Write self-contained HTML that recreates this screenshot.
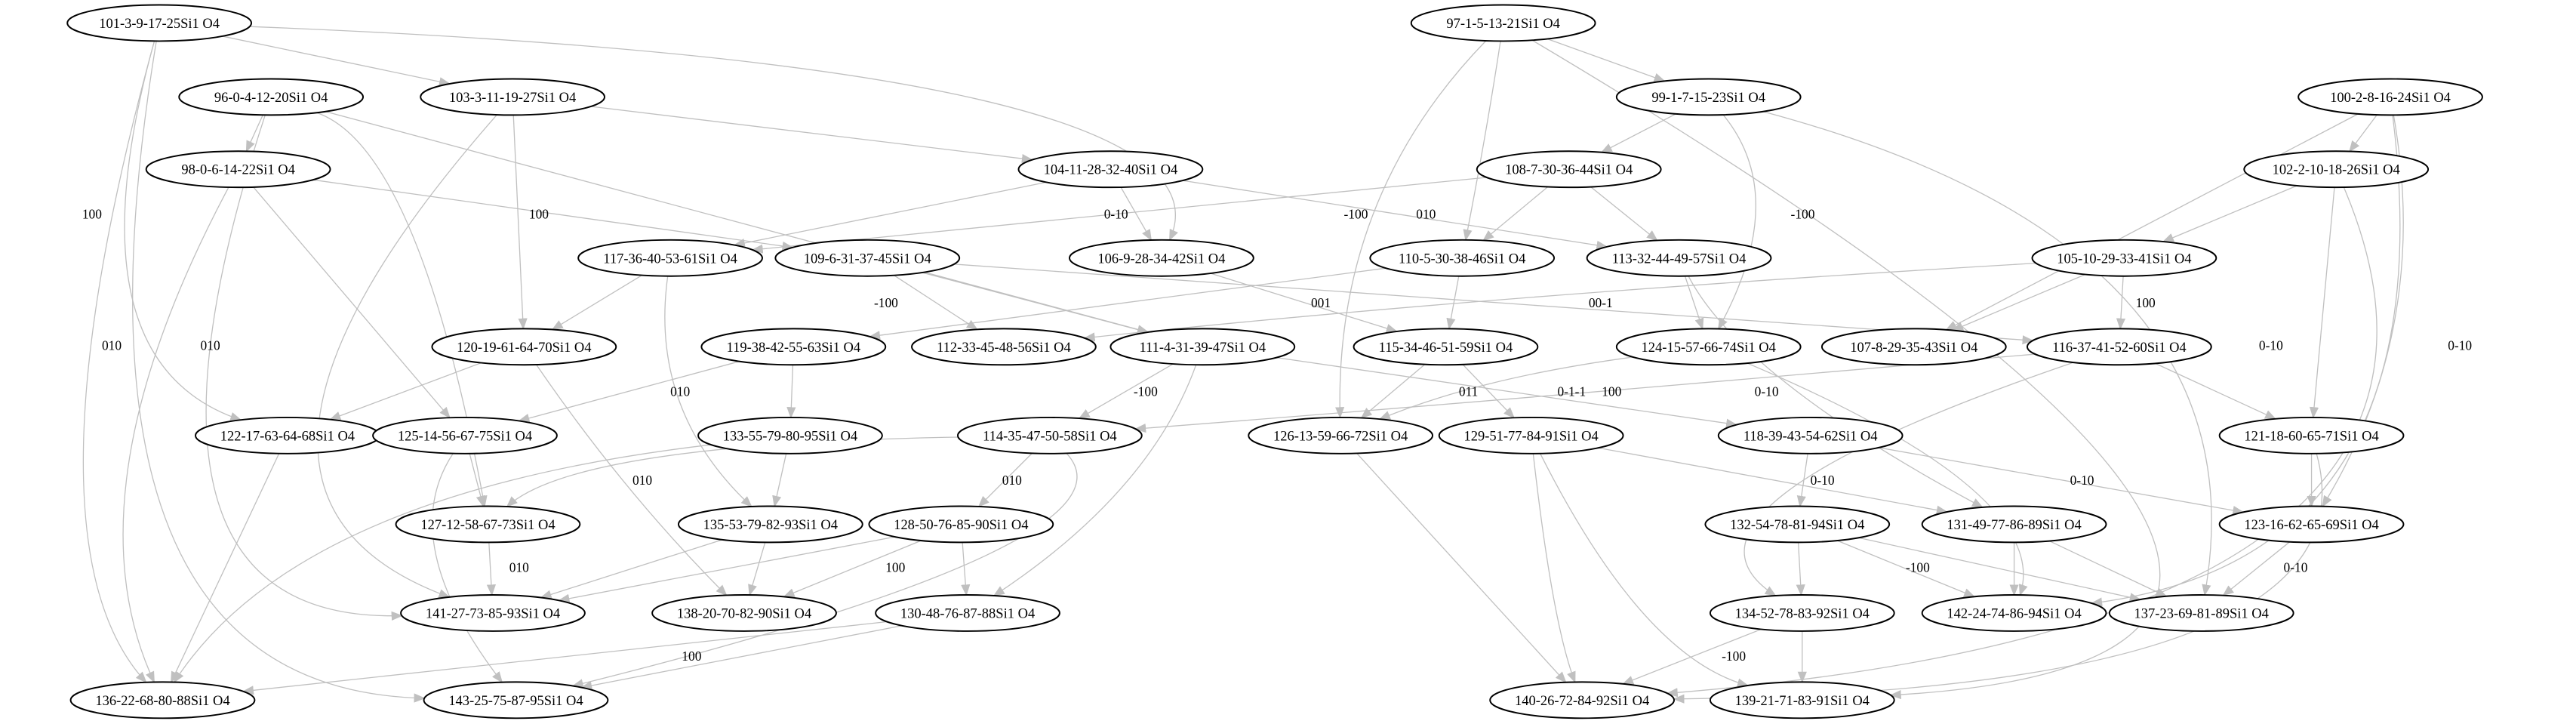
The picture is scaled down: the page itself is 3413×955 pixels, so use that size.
<!DOCTYPE html>
<html><head><meta charset="utf-8"><style>
html,body{margin:0;padding:0;background:#fff;}
svg{display:block;}
text{font-family:"Liberation Serif",serif;}
</style></head><body>
<svg id="g" xmlns="http://www.w3.org/2000/svg" width="3413" height="955" viewBox="0 0 1568 438.7" preserveAspectRatio="none">
<defs><marker id="a" viewBox="0 0 10 10" refX="9" refY="5" markerWidth="7" markerHeight="7" markerUnits="userSpaceOnUse" orient="auto"><path d="M0,1 L10,5 L0,9 z" fill="#c0c0c0"/></marker></defs>
<g id="edges" fill="none" stroke="#c0c0c0" stroke-width="0.6"></g>
<g id="labels" font-size="8" fill="#000"></g>
<g id="nodes"></g>
</svg>
<script>
var N={
"101":[97,14,"101-3-9-17-25Si1 O4"],"97":[915,14,"97-1-5-13-21Si1 O4"],
"96":[165,59,"96-0-4-12-20Si1 O4"],"103":[312,59,"103-3-11-19-27Si1 O4"],"99":[1040,59,"99-1-7-15-23Si1 O4"],"100":[1455,59,"100-2-8-16-24Si1 O4"],
"98":[145,103,"98-0-6-14-22Si1 O4"],"104":[676,103,"104-11-28-32-40Si1 O4"],"108":[955,103,"108-7-30-36-44Si1 O4"],"102":[1422,103,"102-2-10-18-26Si1 O4"],
"117":[408,157,"117-36-40-53-61Si1 O4"],"109":[528,157,"109-6-31-37-45Si1 O4"],"106":[707,157,"106-9-28-34-42Si1 O4"],"110":[890,157,"110-5-30-38-46Si1 O4"],"113":[1022,157,"113-32-44-49-57Si1 O4"],"105":[1293,157,"105-10-29-33-41Si1 O4"],
"120":[319,211,"120-19-61-64-70Si1 O4"],"119":[483,211,"119-38-42-55-63Si1 O4"],"112":[611,211,"112-33-45-48-56Si1 O4"],"111":[732,211,"111-4-31-39-47Si1 O4"],"115":[880,211,"115-34-46-51-59Si1 O4"],"124":[1040,211,"124-15-57-66-74Si1 O4"],"107":[1165,211,"107-8-29-35-43Si1 O4"],"116":[1290,211,"116-37-41-52-60Si1 O4"],
"122":[175,265,"122-17-63-64-68Si1 O4"],"125":[283,265,"125-14-56-67-75Si1 O4"],"133":[481,265,"133-55-79-80-95Si1 O4"],"114":[639,265,"114-35-47-50-58Si1 O4"],"126":[816,265,"126-13-59-66-72Si1 O4"],"129":[932,265,"129-51-77-84-91Si1 O4"],"118":[1102,265,"118-39-43-54-62Si1 O4"],"121":[1407,265,"121-18-60-65-71Si1 O4"],
"127":[297,319,"127-12-58-67-73Si1 O4"],"135":[469,319,"135-53-79-82-93Si1 O4"],"128":[585,319,"128-50-76-85-90Si1 O4"],"132":[1094,319,"132-54-78-81-94Si1 O4"],"131":[1226,319,"131-49-77-86-89Si1 O4"],"123":[1407,319,"123-16-62-65-69Si1 O4"],
"141":[300,373,"141-27-73-85-93Si1 O4"],"138":[453,373,"138-20-70-82-90Si1 O4"],"130":[589,373,"130-48-76-87-88Si1 O4"],"134":[1097,373,"134-52-78-83-92Si1 O4"],"142":[1226,373,"142-24-74-86-94Si1 O4"],"137":[1340,373,"137-23-69-81-89Si1 O4"],
"136":[99,426,"136-22-68-80-88Si1 O4"],"143":[314,426,"143-25-75-87-95Si1 O4"],"140":[963,426,"140-26-72-84-92Si1 O4"],"139":[1097,426,"139-21-71-83-91Si1 O4"]
};
var E=[
["101","103"],["101","106",[760,40]],["101","122",[40,220]],["101","136",[10,330]],["101","143",[30,420]],
["97","99"],["97","126",[812,120]],["97","110",[905,80]],["97","139",[1565,400]],
["96","98"],["96","111"],["96","127",[255,90]],["96","141",[60,380]],
["103","104"],["103","120"],["103","141",[100,300]],
["98","109"],["98","125"],["98","136",[40,300]],
["99","108"],["99","124",[1090,120]],["99","137",[1380,150]],
["100","102"],["100","107"],["100","123",[1480,200]],["100","142",[1490,340]],
["104","117"],["104","106"],["104","113"],
["108","110"],["108","113"],["108","117"],
["102","105"],["102","121"],["102","140",[1540,380]],
["117","120"],["117","135",[395,250]],
["109","112"],["109","116"],["109","111"],
["106","115"],["110","115"],["110","119"],
["113","124"],["113","131",[1060,230]],
["105","107"],["105","116"],["105","112",[900,180]],
["120","122"],["120","138",[380,300]],
["119","133"],["119","125"],
["111","118"],["111","114"],["111","130",[700,300]],
["115","126"],["115","129"],
["124","126",[900,230]],["124","142",[1250,300]],
["116","114",[900,245]],["116","121"],["116","134",[1000,310]],
["122","136"],["125","127"],["125","143",[240,330]],
["133","135"],["133","136",[180,300]],
["114","128"],["114","127",[350,270]],["114","143",[700,330]],
["126","140"],["129","131"],["129","139",[1000,400]],["129","140",[945,380]],
["118","132"],["118","123"],["121","123"],["121","140",[1450,420]],
["127","141"],["135","141"],["135","138"],
["128","141"],["128","138"],["128","130"],
["132","134"],["132","142"],["132","137"],
["131","142"],["131","137"],["123","137"],
["130","136"],["130","143"],["134","139"],["134","140"]
];
var L=[[50,133,"100"],[322,133,"100"],[62,213,"010"],[122,213,"010"],[818,133,"-100"],[1090,133,"-100"],[672,133,"0-10"],[862,133,"010"],[1375,213,"0-10"],[1490,213,"0-10"],[532,187,"-100"],[798,187,"001"],[967,187,"00-1"],[1300,187,"100"],[408,241,"010"],[690,241,"-100"],[888,241,"011"],[948,241,"0-1-1"],[975,241,"100"],[1068,241,"0-10"],[385,295,"010"],[610,295,"010"],[1102,295,"0-10"],[1260,295,"0-10"],[310,348,"010"],[539,348,"100"],[1160,348,"-100"],[1390,348,"0-10"],[415,402,"100"],[1048,402,"-100"]];
var RX=56,RY=11,ns="http://www.w3.org/2000/svg";
function clip(c,p){var dx=p[0]-c[0],dy=p[1]-c[1];var t=1/Math.sqrt((dx/RX)*(dx/RX)+(dy/RY)*(dy/RY));return [c[0]+dx*t,c[1]+dy*t];}
var eg=document.getElementById("edges"),lg=document.getElementById("labels"),ng=document.getElementById("nodes");
E.forEach(function(e){var a=N[e[0]],b=N[e[1]],cp=e[2];var pa=clip(a,cp||b),pb=clip(b,cp||a);var d;
if(cp)d="M"+pa[0]+","+pa[1]+" Q"+cp[0]+","+cp[1]+" "+pb[0]+","+pb[1];else d="M"+pa[0]+","+pa[1]+" L"+pb[0]+","+pb[1];
var p=document.createElementNS(ns,"path");p.setAttribute("d",d);p.setAttribute("marker-end","url(#a)");eg.appendChild(p);});
L.forEach(function(l){var t=document.createElementNS(ns,"text");t.setAttribute("x",l[0]);t.setAttribute("y",l[1]);t.textContent=l[2];lg.appendChild(t);});
for(var k in N){var n=N[k];var el=document.createElementNS(ns,"ellipse");el.setAttribute("cx",n[0]);el.setAttribute("cy",n[1]);el.setAttribute("rx",RX);el.setAttribute("ry",RY);el.setAttribute("fill","#fff");el.setAttribute("stroke","#000");el.setAttribute("stroke-width","0.9");ng.appendChild(el);
var t=document.createElementNS(ns,"text");t.setAttribute("x",n[0]);t.setAttribute("y",n[1]+3);t.setAttribute("text-anchor","middle");t.setAttribute("font-size","8.5");t.textContent=n[2];ng.appendChild(t);}
</script>
</body></html>
